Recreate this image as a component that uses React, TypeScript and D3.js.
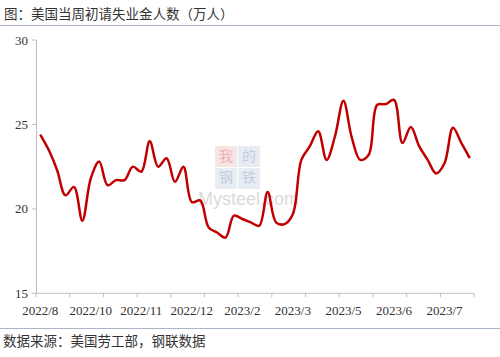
import React from "react";
import * as d3 from "d3";

const titleText = "图：美国当周初请失业金人数（万人）";
const sourceText = "数据来源：美国劳工部，钢联数据";

const values = [
  24.4, 23.5, 22.3, 20.8, 21.3, 19.3, 21.8, 22.8, 21.4, 21.7,
  21.7, 22.5, 22.2, 24.0, 22.5, 23.0, 21.6, 22.5, 20.4, 20.5,
  18.9, 18.6, 18.3, 19.6, 19.4, 19.2, 19.0, 21.0, 19.2, 19.1,
  19.7, 22.9, 23.7, 24.6, 22.9, 24.3, 26.4, 24.2, 22.9, 23.2,
  26.15, 26.2, 26.45, 23.9, 24.85, 23.7, 22.9, 22.1, 22.7, 24.8,
  23.9, 23.0,
];

const xLabels = ["2022/8", "2022/10", "2022/11", "2022/12", "2023/2", "2023/3", "2023/5", "2023/6", "2023/7"];
const labelEvery = 6;
const tickEvery = 4;
const yTicks = [15, 20, 25, 30];

export default function App() {
  const W = 500, H = 357;
  const left = 36, right = 474, top = 40, bottom = 293.3;
  const n = values.length;
  const x = d3.scaleBand<number>().domain(d3.range(n)).range([left, right]).paddingInner(0).paddingOuter(0);
  const y = d3.scaleLinear().domain([15, 30]).range([bottom, top]);
  const cx = (i: number) => (x(i) as number) + x.bandwidth() / 2;
  const line = d3.line<number>().x((_, i) => cx(i)).y((v) => y(v)).curve(d3.curveCatmullRom.alpha(0.5));
  const axisColor = "#bfbfbf";
  const numFont = "'Liberation Serif', 'Times New Roman', serif";
  const cjkFont = "'Noto Sans CJK SC', sans-serif";
  const tickIdx = d3.range(0, n + 1, tickEvery);

  return (
    <svg width={W} height={H} style={{ position: "absolute", left: 0, top: 0, background: "#fff" }}>
      <rect x={0} y={0} width={W} height={H} fill="#fff" />
      <text x={4} y={19} fontFamily={cjkFont} fontSize={13.5} fill="#333">{titleText}</text>
      <line x1={0} x2={W} y1={25.5} y2={25.5} stroke="#aab6c6" strokeWidth={1} />

      {/* watermark */}
      <g opacity={0.55}>
        <rect x={215} y={146} width={22} height={21} fill="#f2d0d0" />
        <rect x={238} y={146} width={22} height={21} fill="#d6dfec" />
        <rect x={215} y={168} width={22} height={21} fill="#d6dfec" />
        <rect x={238} y={168} width={22} height={21} fill="#d6dfec" />
        <text x={226} y={161} textAnchor="middle" fontFamily={cjkFont} fontSize={14} fill="#e07070">我</text>
        <text x={249} y={161} textAnchor="middle" fontFamily={cjkFont} fontSize={14} fill="#8fa3c3">的</text>
        <text x={226} y={182} textAnchor="middle" fontFamily={cjkFont} fontSize={14} fill="#8fa3c3">钢</text>
        <text x={249} y={182} textAnchor="middle" fontFamily={cjkFont} fontSize={14} fill="#8fa3c3">铁</text>
        <text x={198} y={205} fontFamily="'Liberation Sans', Arial, sans-serif" fontSize={18} fill="#bdbdbd">Mysteel.com</text>
      </g>

      {/* y axis */}
      <line x1={left + 0.5} x2={left + 0.5} y1={top} y2={bottom} stroke={axisColor} />
      {yTicks.map((t) => (
        <g key={t}>
          <line x1={left - 4} x2={left} y1={y(t)} y2={y(t)} stroke={axisColor} />
          <text x={28} y={y(t) + 4.5} textAnchor="end" fontFamily={numFont} fontSize={13} fill="#333">{t}</text>
        </g>
      ))}

      {/* x axis */}
      <line x1={left} x2={right} y1={bottom} y2={bottom} stroke={axisColor} />
      {tickIdx.map((i) => {
        const xx = i < n ? (x(i) as number) : right;
        return <line key={i} x1={xx} x2={xx} y1={bottom} y2={bottom + 4} stroke={axisColor} />;
      })}
      {xLabels.map((l, k) => (
        <text key={l} x={cx(k * labelEvery)} y={315} textAnchor="middle" fontFamily={numFont} fontSize={13} fill="#333">{l}</text>
      ))}

      <path d={line(values) || ""} fill="none" stroke="#c00000" strokeWidth={2.5} strokeLinejoin="round" />

      <line x1={0} x2={W} y1={328.5} y2={328.5} stroke="#aab6c6" strokeWidth={1} />
      <text x={3} y={346} fontFamily={cjkFont} fontSize={13.5} fill="#333">{sourceText}</text>
    </svg>
  );
}
